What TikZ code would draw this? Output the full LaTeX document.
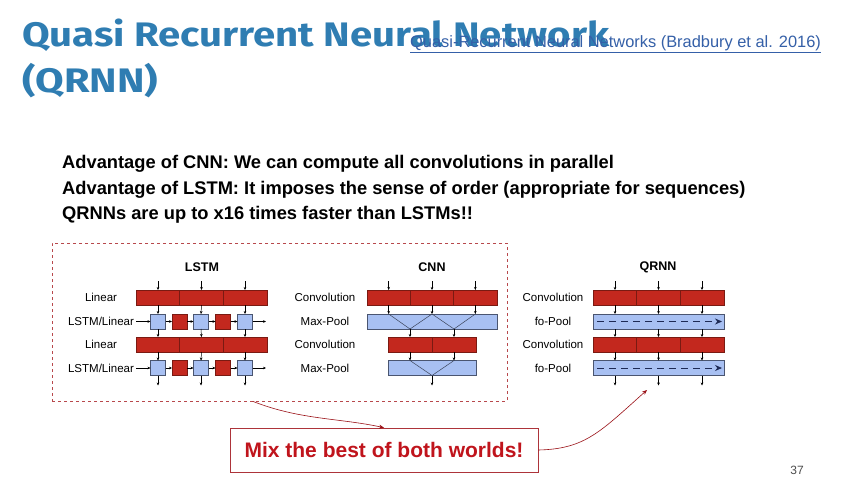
\documentclass[tikz,border=0pt]{standalone}
\usepackage{fontspec}
\setmainfont{Liberation Sans}
\newfontfamily\titlefont{Fira Sans}
\usetikzlibrary{arrows.meta,calc}
\definecolor{titleblue}{HTML}{2F7DB2}
\definecolor{barred}{HTML}{C3281E}
\definecolor{barredline}{HTML}{7A1A12}
\definecolor{boxblue}{HTML}{A8C0F2}
\definecolor{boxline}{HTML}{4A5570}
\definecolor{mixred}{HTML}{C0141C}
\definecolor{dashred}{HTML}{B8484C}
\definecolor{linkblue}{HTML}{3560A8}
\definecolor{navy}{HTML}{1E2A55}
\begin{document}
\begin{tikzpicture}[x=1pt,y=-1pt,
  redseg/.style={draw=barredline,fill=barred,line width=0.5pt,minimum height=15pt,inner sep=0pt,outer sep=0pt},
  blueseg/.style={draw=boxline,fill=boxblue,line width=0.5pt,minimum height=15pt,inner sep=0pt,outer sep=0pt},
  sqr/.style={minimum width=15pt,minimum height=15pt,inner sep=0pt,outer sep=0pt},
  arr/.style={-{Stealth[length=3pt,width=2.6pt]},line width=0.5pt},
  lbl/.style={font=\fontsize{11.5}{13}\selectfont,inner sep=0pt},
  ptitle/.style={font=\bfseries\fontsize{12.5}{14}\selectfont,inner sep=0pt},
  bodytxt/.style={anchor=base west,inner sep=0pt,font=\bfseries\fontsize{18.3}{21}\selectfont},
  titletxt/.style={anchor=base west,inner sep=0pt,text=titleblue,font=\titlefont\bfseries\fontsize{34}{40}\selectfont},
  redarr/.style={-{Stealth[length=5pt,width=4pt]},draw=mixred!80!black,line width=0.6pt},
]
\useasboundingbox (0,0) rectangle (842,493);
\fill[white] (0,0) rectangle (842,493);

% title
\node[titletxt] (t1) at (22,46) {\scalebox{1.18}[1]{Quasi Recurrent Neural Network}};
\node[titletxt] (t2) at (22,92) {\scalebox{1.22}[1]{(QRNN)}};
\node[anchor=base west,inner sep=0pt,text=linkblue,font=\fontsize{16.4}{18}\selectfont] (link) at (410,47) {\underline{Quasi-Recurrent Neural Networks (Bradbury et al. 2016)}};

% body text
\node[bodytxt] (b1) at (62,168) {Advantage of CNN: We can compute all convolutions in parallel};
\node[bodytxt] (b2) at (62,194) {Advantage of LSTM: It imposes the sense of order (appropriate for sequences)};
\node[bodytxt] (b3) at (62,219) {QRNNs are up to x16 times faster than LSTMs!!};

% dashed group box
\node[draw=dashred,dashed,line width=0.6pt,minimum width=455pt,minimum height=158pt,inner sep=0pt] (grp) at (279.5,322) {};

% ---------------- LSTM ----------------
\node[ptitle] (lt) at (202,267) {LSTM};
\node[lbl] (ll1) at (101,297.5) {Linear};
\node[lbl] (ll2) at (101,321.5) {LSTM/Linear};
\node[lbl] (ll3) at (101,344.5) {Linear};
\node[lbl] (ll4) at (101,368) {LSTM/Linear};
\foreach \i/\x in {1/158,2/201.5,3/245}{
  \node[redseg,minimum width=43.67pt] (la\i) at (\x,297.5) {};
  \node[redseg,minimum width=43.67pt] (lc\i) at (\x,344.5) {};
}
\foreach \i/\x in {1/158,2/201,3/245}{
  \node[sqr,blueseg] (lb\i) at (\x,321.5) {};
  \node[sqr,blueseg] (ld\i) at (\x,368) {};
}
\foreach \i/\x in {1/179.5,2/223}{
  \node[sqr,redseg] (lr\i) at (\x,321.5) {};
  \node[sqr,redseg] (ls\i) at (\x,368) {};
}
\coordinate (lin2) at (136,321.5);
\coordinate (lout2) at (266,321.5);
\coordinate (lin4) at (136,368);
\coordinate (lout4) at (266,368);
\draw[arr] (lin2) -- (lb1.west);
\draw[arr] (lb1.east) -- (lr1.west);
\draw[arr] (lr1.east) -- (lb2.west);
\draw[arr] (lb2.east) -- (lr2.west);
\draw[arr] (lr2.east) -- (lb3.west);
\draw[arr] (lb3.east) -- (lout2);
\draw[arr] (lin4) -- (ld1.west);
\draw[arr] (ld1.east) -- (ls1.west);
\draw[arr] (ls1.east) -- (ld2.west);
\draw[arr] (ld2.east) -- (ls2.west);
\draw[arr] (ls2.east) -- (ld3.west);
\draw[arr] (ld3.east) -- (lout4);
\foreach \i in {1,2,3}{
  \draw[arr] ($(la\i.north)+(0,-9)$) -- (la\i.north);
  \draw[arr] (la\i.south) -- (lb\i.north);
  \draw[arr] (lb\i.south) -- (lc\i.north);
  \draw[arr] (lc\i.south) -- (ld\i.north);
  \draw[arr] (ld\i.south) -- ($(ld\i.south)+(0,10)$);
}

% ---------------- CNN ----------------
\node[ptitle] (ct) at (432,267) {CNN};
\node[lbl] (cl1) at (325,297.5) {Convolution};
\node[lbl] (cl2) at (325,321.5) {Max-Pool};
\node[lbl] (cl3) at (325,344.5) {Convolution};
\node[lbl] (cl4) at (325,368) {Max-Pool};
\foreach \i/\x in {1/388.67,2/432,3/475.33}{
  \node[redseg,minimum width=43.33pt] (ca\i) at (\x,297.5) {};
}
\node[blueseg,minimum width=130pt] (cb) at (432,321.5) {};
\foreach \i/\x in {1/410,2/454}{
  \node[redseg,minimum width=44pt] (cc\i) at (\x,344.5) {};
}
\node[blueseg,minimum width=88pt] (cd) at (432,368) {};
\draw[line width=0.5pt,boxline!80!black] (ca1.south |- cb.north) -- (cc1.north |- cb.south) -- (ca2.south |- cb.north) -- (cc2.north |- cb.south) -- (ca3.south |- cb.north);
\draw[line width=0.5pt,boxline!80!black] (cc1.south |- cd.north) -- (cd.south) -- (cc2.south |- cd.north);
\foreach \i in {1,2,3}{
  \draw[arr] ($(ca\i.north)+(0,-9)$) -- (ca\i.north);
  \draw[arr] (ca\i.south) -- (ca\i.south |- cb.north);
}
\foreach \i in {1,2}{
  \draw[arr] (cc\i.north |- cb.south) -- (cc\i.north);
  \draw[arr] (cc\i.south) -- (cc\i.south |- cd.north);
}
\draw[arr] (cd.south) -- ($(cd.south)+(0,10)$);

% ---------------- QRNN ----------------
\node[ptitle] (qt) at (658,267) {QRNN};
\node[lbl] (ql1) at (553,297.5) {Convolution};
\node[lbl] (ql2) at (553,321.5) {fo-Pool};
\node[lbl] (ql3) at (553,344.5) {Convolution};
\node[lbl] (ql4) at (553,368) {fo-Pool};
\foreach \i/\x in {1/615,2/658.5,3/702}{
  \node[redseg,minimum width=43.67pt] (qa\i) at (\x,297.5) {};
  \node[redseg,minimum width=43.67pt] (qc\i) at (\x,344.5) {};
}
\node[blueseg,minimum width=131pt] (qb) at (658.5,321.5) {};
\node[blueseg,minimum width=131pt] (qd) at (658.5,368) {};
\draw[navy,line width=0.8pt,dash pattern=on 7pt off 5pt,-{Stealth[length=7pt,width=6pt]}] ($(qb.west)+(4,0)$) -- ($(qb.east)+(-2,0)$);
\draw[navy,line width=0.8pt,dash pattern=on 7pt off 5pt,-{Stealth[length=7pt,width=6pt]}] ($(qd.west)+(4,0)$) -- ($(qd.east)+(-2,0)$);
\foreach \i in {1,2,3}{
  \draw[arr] ($(qa\i.north)+(0,-9)$) -- (qa\i.north);
  \draw[arr] (qa\i.south) -- (qa\i.south |- qb.north);
  \draw[arr] (qc\i.north |- qb.south) -- (qc\i.north);
  \draw[arr] (qc\i.south) -- (qc\i.south |- qd.north);
  \draw[arr] (qc\i.south |- qd.south) -- ($(qc\i.south |- qd.south)+(0,10)$);
}

% ---------------- Mix box ----------------
\node[draw=mixred!70!gray,line width=0.6pt,minimum width=308pt,minimum height=44pt,inner sep=0pt,text=mixred,font=\bfseries\fontsize{21}{25}\selectfont] (mix) at (384,450) {Mix the best of both worlds!};
\coordinate (gstart) at ($(grp.south west)+(201,0)$);
\coordinate (qtarget) at (647,390);
\draw[redarr] (gstart) .. controls (300,420) and (340,418) .. (mix.north);
\draw[redarr] (mix.east) .. controls (585,449) and (600,432) .. (qtarget);

\node[inner sep=0pt,text=black!70,font=\fontsize{12}{14}\selectfont] (pg) at (797,470) {37};
\end{tikzpicture}
\end{document}
